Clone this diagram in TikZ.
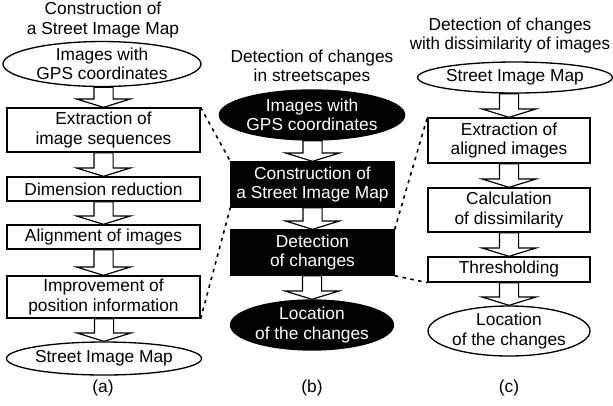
\documentclass[tikz,border=0pt]{standalone}
\usepackage{fontspec}
\usepackage{graphicx}
\setmainfont{Liberation Sans}
\usetikzlibrary{shapes.geometric,calc}

\tikzset{
  lbl/.style={align=center, inner sep=0pt, font=\fontsize{13}{14.3}\selectfont},
  wbox/.style={lbl, draw, line width=1pt, fill=white, rectangle, minimum width=#1*0.75pt},
  bbox/.style={lbl, draw, line width=1pt, fill=black, text=white, rectangle, minimum width=#1*0.75pt},
  wellip/.style={lbl, draw, line width=1pt, fill=white, ellipse},
  bellip/.style={lbl, draw, line width=1pt, fill=black, text=white, ellipse},
  blockarrow/.style={draw, line width=0.9pt, fill=white, line join=miter},
  link/.style={line width=1.2pt, dash pattern=on 2.6pt off 3.4pt},
}

% hollow down-pointing block arrow from the bottom of #1 to the top of #2
\newcommand{\downarrowbox}[2]{%
  \path[blockarrow] let \p1=(#2.north), \p2=(#1.south) in
    (\x1-7.2pt,\y2) -- (\x1+7.2pt,\y2) -- (\x1+7.2pt,\y1+6.2pt) -- (\x1+20pt,\y1+6.2pt)
    -- (\x1,\y1) -- (\x1-20pt,\y1+6.2pt) -- (\x1-7.2pt,\y1+6.2pt) -- cycle;}

\begin{document}
\begin{tikzpicture}[x=0.75pt,y=-0.75pt]
\useasboundingbox (0,0) rectangle (613,405);

% ---- (a) construction of a street image map
\node[lbl] (ta) at (103,20) {Construction of\\a Street Image Map};
\node[wellip, minimum width=198*0.75pt, minimum height=43*0.75pt] (a0) at (102,64) {Images with\\GPS coordinates};
\node[wbox=193, minimum height=44*0.75pt] (a1) at (103.5,130) {Extraction of\\image sequences};
\node[wbox=193, minimum height=24*0.75pt] (a2) at (103.5,189) {Dimension reduction};
\node[wbox=193, minimum height=24*0.75pt] (a3) at (103.5,237) {Alignment of images};
\node[wbox=193, minimum height=42*0.75pt] (a4) at (103.5,297) {Improvement of\\position information};
\node[wellip, minimum width=195*0.75pt, minimum height=33*0.75pt] (a5) at (104,358.5) {Street Image Map};
\node[lbl] (capa) at (103,388) {(a)};

% ---- (b) detection of changes in streetscapes
\node[lbl] (tb) at (312,67.5) {Detection of changes\\in streetscapes};
\node[bellip, minimum width=162*0.75pt, minimum height=50*0.75pt] (b0) at (312,115) {Images with\\GPS coordinates};
\node[bbox=163, minimum height=45*0.75pt] (b1) at (312.5,184.5) {Construction of\\a Street Image Map};
\node[bbox=163, minimum height=45*0.75pt] (b2) at (312.5,252.5) {Detection\\of changes};
\node[bellip, minimum width=163*0.75pt, minimum height=50*0.75pt] (b3) at (312,325) {Location\\of the changes};
\node[lbl] (capb) at (312,388) {(b)};

% ---- (c) detection of changes with dissimilarity of images
\node[lbl] (tc) at (510,35.5) {Detection of changes\\\resizebox{150pt}{\height}{with dissimilarity of images}};
\node[wellip, minimum width=176*0.75pt, minimum height=31*0.75pt] (c0) at (515,77.5) {Street Image Map};
\node[wbox=162, minimum height=45*0.75pt] (c1) at (509,140.5) {Extraction of\\aligned images};
\node[wbox=162, minimum height=44*0.75pt] (c2) at (509,210) {Calculation\\of dissimilarity};
\node[wbox=162, minimum height=25*0.75pt] (c3) at (509,269.5) {Thresholding};
\node[wellip, minimum width=162*0.75pt, minimum height=50*0.75pt] (c4) at (509,331) {Location\\of the changes};
\node[lbl] (capc) at (509,388) {(c)};

% ---- flow arrows
\downarrowbox{a0}{a1}
\downarrowbox{a1}{a2}
\downarrowbox{a2}{a3}
\downarrowbox{a3}{a4}
\downarrowbox{a4}{a5}
\downarrowbox{b0}{b1}
\downarrowbox{b1}{b2}
\downarrowbox{b2}{b3}
\downarrowbox{c0}{c1}
\downarrowbox{c1}{c2}
\downarrowbox{c2}{c3}
\downarrowbox{c3}{c4}

% ---- dashed expansion links
\draw[link] (a1.north east) -- (b1.north west);
\draw[link] (a4.south east) -- (b1.south west);
\draw[link] (b2.north east) -- (c1.north west);
\draw[link] (b2.south east) -- (c3.south west);
\end{tikzpicture}
\end{document}
